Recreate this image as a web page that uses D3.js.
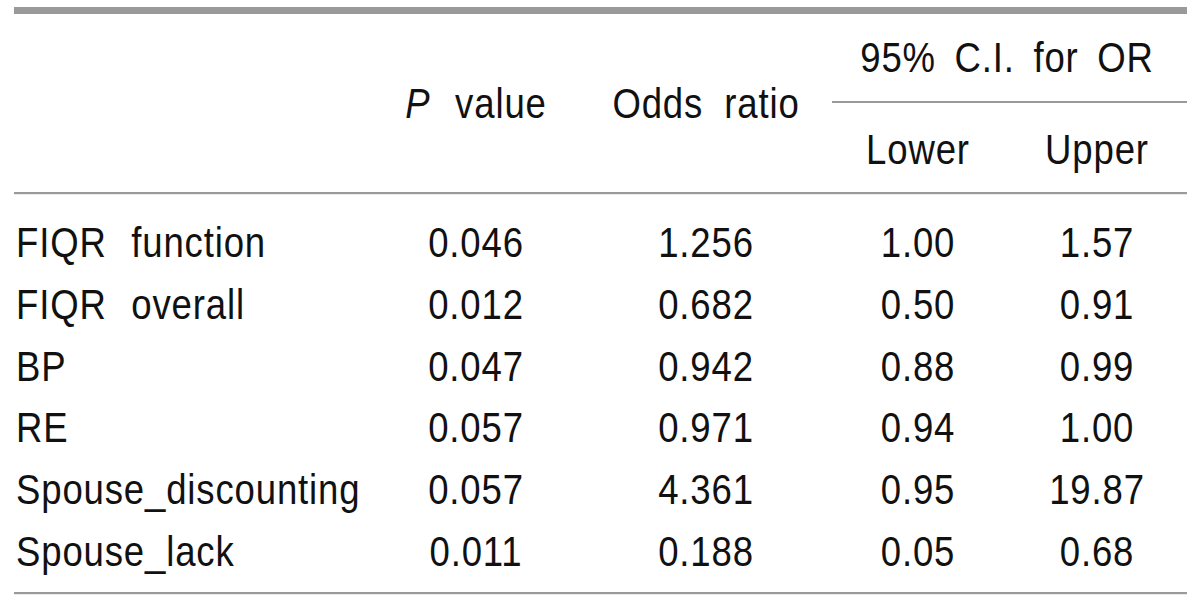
<!DOCTYPE html>
<html>
<head>
<meta charset="utf-8">
<script src="https://cdn.jsdelivr.net/npm/d3@7/dist/d3.min.js"></script>
<style>
  html, body { margin: 0; padding: 0; background: #fff; }
  svg { display: block; }
  text { font-family: "Liberation Sans", Arial, sans-serif; fill: #111; }
</style>
</head>
<body>
<svg id="chart" width="1200" height="604"></svg>
<script>
// ---- data ----
const variables   = ["FIQR function", "FIQR overall", "BP", "RE", "Spouse_discounting", "Spouse_lack"];
const pValues     = ["0.046", "0.012", "0.047", "0.057", "0.057", "0.011"];
const oddsRatios  = ["1.256", "0.682", "0.942", "0.971", "4.361", "0.188"];
const lowerCI     = ["1.00", "0.50", "0.88", "0.94", "0.95", "0.05"];
const upperCI     = ["1.57", "0.91", "0.99", "1.00", "19.87", "0.68"];
const columnKeys  = ["label", "p", "or", "lower", "upper"];
const groupHeader = "95% C.I. for OR";
const subHeaders  = ["Lower", "Upper"];

const rows = variables.map((v, i) => ({
  label: v, p: pValues[i], or: oddsRatios[i], lower: lowerCI[i], upper: upperCI[i]
}));

const svg = d3.select("#chart");
const left = 14, right = 1187;
const fontSize = 43;
const sx = 0.85;

const x = d3.scaleOrdinal().domain(columnKeys).range([16, 476, 706, 918, 1097]);
const y = d3.scalePoint().domain(variables).range([242, 551]);

const lineColor = "#9a9a9a";

// rules
svg.append("rect").attr("x", left).attr("y", 7).attr("width", right - left).attr("height", 7).attr("fill", lineColor);
svg.append("rect").attr("x", left).attr("y", 192).attr("width", right - left).attr("height", 2.2).attr("fill", lineColor);
svg.append("rect").attr("x", left).attr("y", 592).attr("width", right - left).attr("height", 2.2).attr("fill", lineColor);
svg.append("rect").attr("x", 832).attr("y", 101).attr("width", right - 832).attr("height", 2).attr("fill", lineColor);

function addText(parent, tx, ty, anchor, ws) {
  return parent.append("text")
    .attr("transform", `translate(${tx},${ty}) scale(${sx},1)`)
    .attr("text-anchor", anchor)
    .attr("font-size", fontSize)
    .style("letter-spacing", "1px")
    .style("word-spacing", (ws == null ? 16 : ws) + "px");
}

// header
const hdr = svg.append("g");
const pHead = addText(hdr, x("p"), 118, "middle");
pHead.append("tspan").attr("font-style", "italic").text("P");
pHead.append("tspan").text(" value");
addText(hdr, x("or"), 118, "middle", 12).text("Odds ratio");
addText(hdr, 1007, 72, "middle", 9).text(groupHeader);
addText(hdr, x("lower"), 164, "middle").text(subHeaders[0]);
addText(hdr, x("upper"), 164, "middle").text(subHeaders[1]);

// body
const body = svg.append("g");
rows.forEach(d => {
  columnKeys.forEach(k => {
    addText(body, x(k), y(d.label) + 15, k === "label" ? "start" : "middle").text(d[k]);
  });
});
</script>
</body>
</html>
